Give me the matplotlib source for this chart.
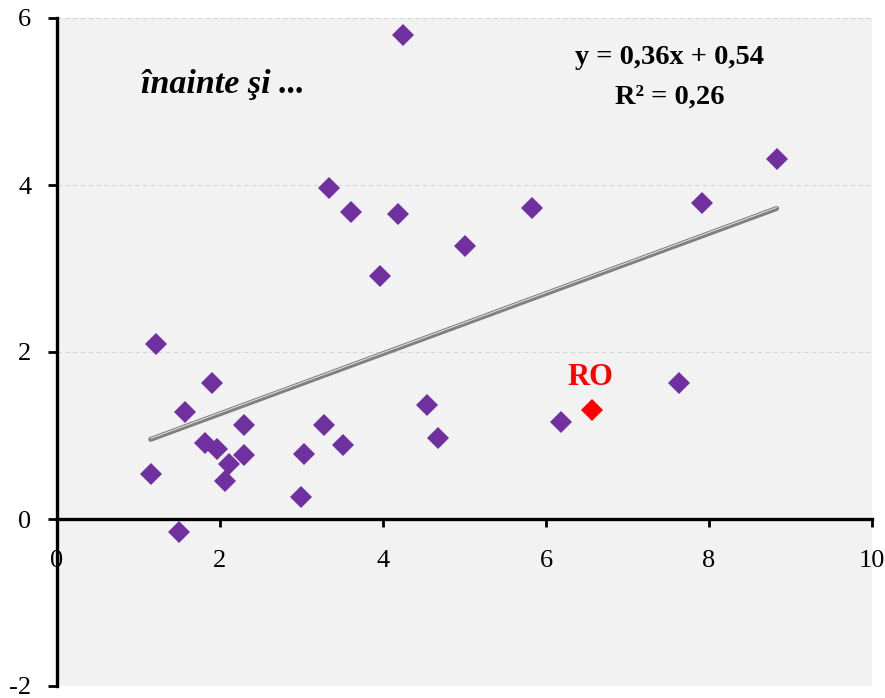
import matplotlib
matplotlib.use("Agg")
import matplotlib.pyplot as plt
import numpy as np

plt.rcParams['font.family'] = ['Liberation Serif', 'DejaVu Serif']
plt.rcParams['axes.unicode_minus'] = False

# country values (x, y)
x_vals = [1.15, 1.22, 1.50, 1.57, 1.90, 1.81, 1.96, 2.06, 2.11, 2.29, 2.29,
          2.99, 3.03, 3.27, 3.51, 3.34, 3.61, 3.96, 4.18, 4.25, 4.54, 4.67,
          5.01, 5.83, 6.19, 7.63, 7.92, 8.83]
y_vals = [0.54, 2.10, -0.15, 1.28, 1.63, 0.91, 0.84, 0.46, 0.66, 1.12, 0.77,
          0.26, 0.78, 1.13, 0.89, 3.96, 3.68, 2.91, 3.65, 5.80, 1.36, 0.97,
          3.27, 3.72, 1.16, 1.63, 3.79, 4.31]
ro_x, ro_y = 6.56, 1.31

slope, intercept, r2 = 0.36, 0.54, 0.26

fig = plt.figure(figsize=(8.85, 6.98), dpi=100)
ax = fig.add_axes([57/885, 12/698, 815/885, 668/698])
ax.set_facecolor('#f2f2f2')
ax.set_xlim(0, 10)
ax.set_ylim(-2, 6)

ax.set_xticks(np.arange(0, 11, 2))
ax.set_yticks(np.arange(-2, 7, 2))
ax.yaxis.grid(True, linestyle=(0, (4, 3)), color='#d4d4d4', linewidth=0.8)
ax.set_axisbelow(True)

for s in ['top', 'right']:
    ax.spines[s].set_visible(False)
ax.spines['bottom'].set_position(('data', 0))
ax.spines['left'].set_linewidth(2.4)
ax.spines['bottom'].set_linewidth(2.4)
ax.tick_params(axis='x', direction='out', length=6, width=2, pad=16, labelsize=19)
ax.tick_params(axis='y', direction='out', length=6.5, width=2, pad=12, labelsize=19)

# trend line
tx = np.array([min(x_vals), max(x_vals)])
ty = slope * tx + intercept
ax.plot(tx, ty, color='#808080', lw=3.6, solid_capstyle='round', zorder=2)
ax.plot(tx, ty + 0.012, color='#e6e6e6', lw=0.7, solid_capstyle='round', zorder=2)

ax.plot(x_vals, y_vals, 'D', color='#7030A0', ms=11.5, mew=0, zorder=3,
        clip_on=False)
ax.plot([ro_x], [ro_y], 'D', color='#FF0000', ms=11.5, mew=0, zorder=3)
ax.text(ro_x - 0.02, ro_y + 0.39, 'RO', color='#FF0000', fontsize=22,
        fontweight='bold', ha='center', va='center')

ax.text(1.03, 5.2, 'înainte şi ...', fontsize=24.5, fontweight='bold',
        fontstyle='italic', ha='left', va='center')
ax.text(7.52, 5.53, f'y = {slope:.2f}x + {intercept:.2f}'.replace('.', ','),
        fontsize=20.5, fontweight='bold', ha='center', va='center')
ax.text(7.52, 5.05, f'R² = {r2:.2f}'.replace('.', ','),
        fontsize=20.5, fontweight='bold', ha='center', va='center')

fig.savefig('out.png', dpi=100)
